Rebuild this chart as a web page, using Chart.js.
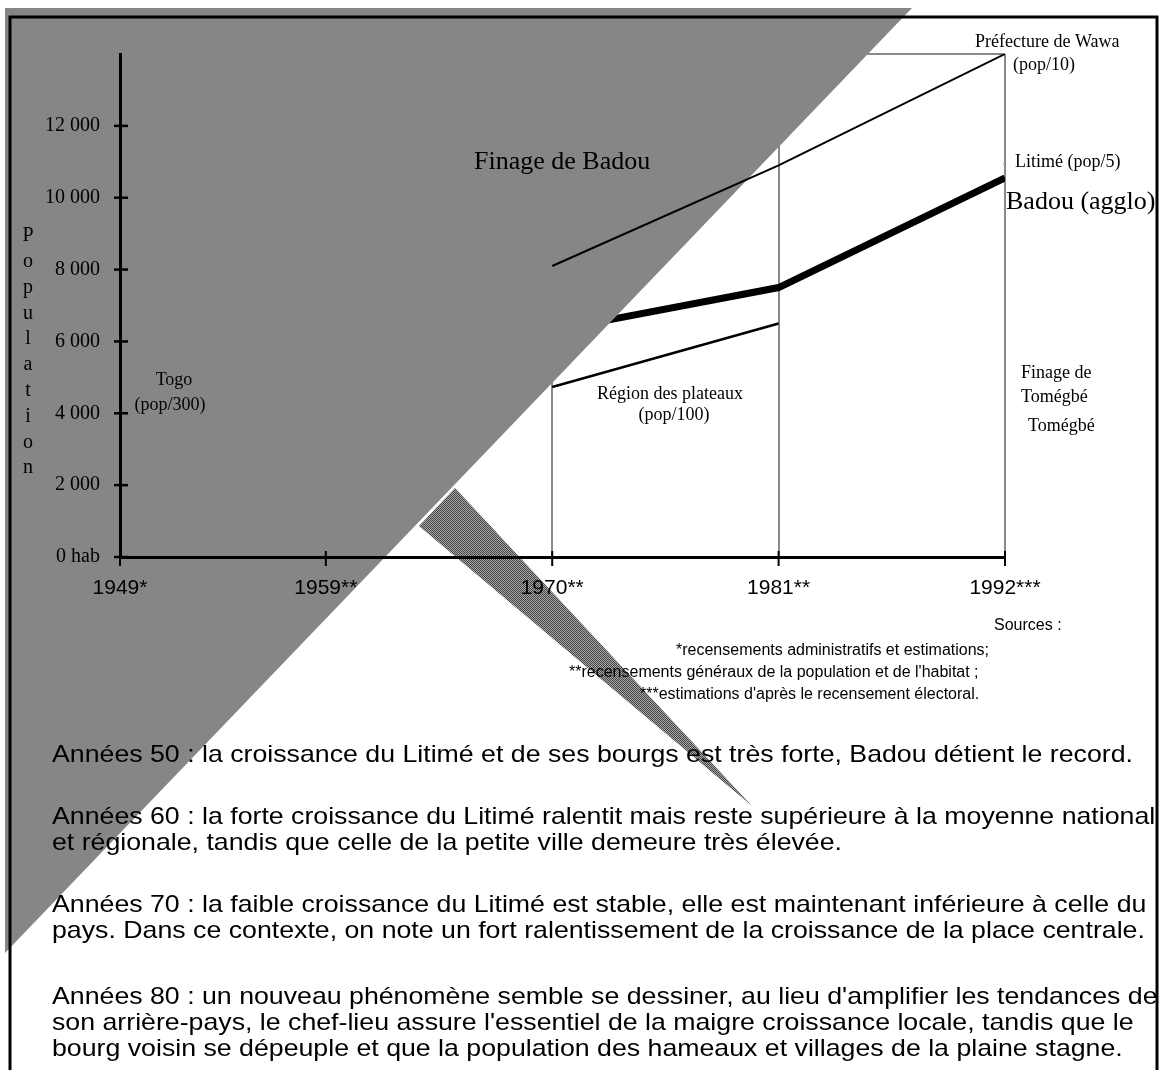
<!DOCTYPE html>
<html lang="fr">
<head>
    <meta charset="UTF-8">
    <title>Croissance de Badou et du Litimé</title>
    <script src="https://cdn.jsdelivr.net/npm/chart.js"></script>
    <style>
        html, body { margin: 0; padding: 0; background: #fff; overflow: hidden; }
        .page { position: relative; width: 1168px; height: 1070px; }
        .chart-box { position: absolute; left: 0; top: 0; width: 1168px; height: 1070px; }
        .notes {
            position: absolute; left: 0; top: 0; width: 1156px; height: 1070px;
            overflow: hidden; pointer-events: none;
        }
        .notes p {
            position: absolute; left: 52px; margin: 0;
            font-family: "Liberation Sans", Arial, sans-serif;
            font-size: 24px; line-height: 26px; color: #000;
            white-space: nowrap; transform: scaleX(1.113); transform-origin: 0 0;
        }
    </style>
</head>
<body>
<div class="page">
    <div class="chart-box"><canvas id="popChart"></canvas></div>
    <div class="notes">
        <p style="top:741px">Années 50 : la croissance du Litimé et de ses bourgs est très forte, Badou détient le record.</p>
        <p style="top:803px">Années 60 : la forte croissance du Litimé ralentit mais reste supérieure à la moyenne nationale<br>et régionale, tandis que celle de la petite ville demeure très élevée.</p>
        <p style="top:891px">Années 70 : la faible croissance du Litimé est stable, elle est maintenant inférieure à celle du<br>pays. Dans ce contexte, on note un fort ralentissement de la croissance de la place centrale.</p>
        <p style="top:983px">Années 80 : un nouveau phénomène semble se dessiner, au lieu d'amplifier les tendances de<br>son arrière-pays, le chef-lieu assure l'essentiel de la maigre croissance locale, tandis que le<br>bourg voisin se dépeuple et que la population des hameaux et villages de la plaine stagne.</p>
    </div>
</div>

<script>
    // census years and their labels (stars = source of the figure)
    const years = [1949, 1959, 1970, 1981, 1992];
    const yearLabels = ['1949*', '1959**', '1970**', '1981**', '1992***'];

    // population values, as read on the figure (null = hidden / not drawn)
    const wawaPop = [null, null, 8100, 10900, 14000];      // Préfecture de Wawa (pop/10)
    const litimePop = [null, null, null, null, 10950];     // Litimé (pop/5)
    const badouPop = [null, null, 6300, 7500, 10550];      // Badou (agglo)
    const plateauxPop = [null, null, 4730, 6500, null];    // Région des plateaux (pop/100)

    const yTicks = [0, 2000, 4000, 6000, 8000, 10000, 12000, 14000];

    const SERIF = '"Liberation Serif", "Times New Roman", serif';
    const SANS = '"Liberation Sans", Arial, sans-serif';

    function points(values) {
        return years.map((yr, i) => ({ x: yr, y: values[i] }));
    }

    function popLabel(v) {
        if (v === 0) return '0 hab';
        if (v >= 14000) return '';
        return Math.floor(v / 1000) + ' 000';
    }

    // 2x2 checker tile for the hatched wedge
    function checker(ctx, a, b) {
        const c = document.createElement('canvas');
        c.width = 2; c.height = 2;
        const g = c.getContext('2d');
        g.fillStyle = a; g.fillRect(0, 0, 2, 2);
        g.fillStyle = b; g.fillRect(0, 0, 1, 1); g.fillRect(1, 1, 1, 1);
        return ctx.createPattern(c, 'repeat');
    }

    function polygon(ctx, pts) {
        ctx.beginPath();
        ctx.moveTo(pts[0][0], pts[0][1]);
        pts.slice(1).forEach(p => ctx.lineTo(p[0], p[1]));
        ctx.closePath();
        ctx.fill();
    }

    function text(ctx, str, x, y, size, family, align) {
        ctx.font = size + 'px ' + family;
        ctx.textAlign = align || 'left';
        ctx.textBaseline = 'middle';
        ctx.fillText(str, x, y);
    }

    const scanPlugin = {
        id: 'scan',
        // the grey triangle and its hatched wedge hide the lower series but not the Wawa line
        beforeDatasetDraw(chart, args) {
            if (args.index !== 0) return;
            const ctx = chart.ctx;
            ctx.save();
            ctx.fillStyle = '#868686';
            polygon(ctx, [[5, 8], [912, 8], [5, 953]]);
            ctx.fillStyle = checker(ctx, '#a8a8a8', '#444444');
            polygon(ctx, [[455, 488], [419, 526], [752, 806]]);
            ctx.restore();
        },
        afterDraw(chart) {
            const ctx = chart.ctx;
            const xs = chart.scales.x;
            const ys = chart.scales.y;
            ctx.save();
            ctx.strokeStyle = '#000';
            ctx.fillStyle = '#000';

            // cross-shaped tick marks
            ctx.lineWidth = 2.5;
            yTicks.filter(v => v < 14000).forEach(v => {
                const py = ys.getPixelForValue(v);
                ctx.beginPath();
                ctx.moveTo(xs.left - 6, py);
                ctx.lineTo(xs.left + 8, py);
                ctx.stroke();
            });
            ctx.lineWidth = 2;
            years.forEach(yr => {
                const px = xs.getPixelForValue(yr);
                ctx.beginPath();
                ctx.moveTo(px, ys.bottom - 6);
                ctx.lineTo(px, ys.bottom + 9);
                ctx.stroke();
            });

            // frame
            ctx.lineWidth = 3;
            ctx.strokeRect(10, 17, 1147, 1070);

            // vertical axis title, one letter per line
            'Population'.split('').forEach((ch, i) => {
                text(ctx, ch, 28, 236 + i * 25.8, 20, SERIF, 'center');
            });

            // series annotations
            text(ctx, 'Finage de Badou', 474, 162, 26, SERIF);
            text(ctx, 'Togo', 174, 380, 18, SERIF, 'center');
            text(ctx, '(pop/300)', 170, 405, 18, SERIF, 'center');
            text(ctx, 'Préfecture de Wawa', 975, 42, 18, SERIF);
            text(ctx, '(pop/10)', 1013, 65, 18, SERIF);
            text(ctx, 'Litimé (pop/5)', 1015, 162, 18, SERIF);
            text(ctx, 'Badou (agglo)', 1006, 202, 26, SERIF);
            text(ctx, 'Région des plateaux', 670, 394, 18, SERIF, 'center');
            text(ctx, '(pop/100)', 674, 415, 18, SERIF, 'center');
            text(ctx, 'Finage de', 1021, 373, 18, SERIF);
            text(ctx, 'Tomégbé', 1021, 397, 18, SERIF);
            text(ctx, 'Tomégbé', 1028, 426, 18, SERIF);

            // sources
            text(ctx, 'Sources :', 994, 626, 16, SANS);
            text(ctx, '*recensements administratifs et estimations;', 676, 651, 16, SANS);
            text(ctx, "**recensements généraux de la population et de l'habitat ;", 569, 673, 16, SANS);
            text(ctx, "***estimations d'après le recensement électoral.", 640, 695, 16, SANS);
            ctx.restore();
        }
    };

    new Chart(document.getElementById('popChart'), {
        type: 'line',
        data: {
            datasets: [
                {
                    label: 'Préfecture de Wawa (pop/10)',
                    data: points(wawaPop),
                    borderColor: '#000',
                    borderWidth: 2,
                    pointRadius: 0
                },
                {
                    label: 'Litimé (pop/5)',
                    data: points(litimePop),
                    showLine: false,
                    pointStyle: 'rect',
                    pointRadius: 2,
                    backgroundColor: '#9a9a9a',
                    borderWidth: 0
                },
                {
                    label: 'Badou (agglo)',
                    data: points(badouPop),
                    borderColor: '#000',
                    borderWidth: 7,
                    pointRadius: 0
                },
                {
                    label: 'Région des plateaux (pop/100)',
                    data: points(plateauxPop),
                    borderColor: '#000',
                    borderWidth: 2.5,
                    pointRadius: 0
                }
            ]
        },
        options: {
            responsive: true,
            maintainAspectRatio: false,
            animation: false,
            layout: { padding: { left: 0, top: 54, right: 163, bottom: 463 } },
            plugins: {
                legend: { display: false },
                tooltip: { enabled: false }
            },
            scales: {
                x: {
                    type: 'linear',
                    min: 1949,
                    max: 1992,
                    afterBuildTicks: (scale) => { scale.ticks = years.map(v => ({ value: v })); },
                    afterFit: (scale) => { scale.height = 50; },
                    grid: { color: '#8a8a8a', lineWidth: 2, drawTicks: false },
                    border: { display: true, color: '#000', width: 3, z: 1 },
                    ticks: {
                        z: 1,
                        padding: 19,
                        color: '#000',
                        maxRotation: 0,
                        font: { family: SANS, size: 21 },
                        callback: (v) => yearLabels[years.indexOf(v)]
                    }
                },
                y: {
                    min: 0,
                    max: 14000,
                    afterBuildTicks: (scale) => { scale.ticks = yTicks.map(v => ({ value: v })); },
                    afterFit: (scale) => { scale.width = 120; },
                    grid: {
                        color: (c) => c.tick && c.tick.value === 14000 ? '#8a8a8a' : 'rgba(0,0,0,0)',
                        lineWidth: 2,
                        drawTicks: false
                    },
                    border: { display: true, color: '#000', width: 3, z: 1 },
                    ticks: {
                        z: 1,
                        padding: 20,
                        color: '#000',
                        font: { family: SERIF, size: 20 },
                        callback: (v) => popLabel(v)
                    }
                }
            }
        },
        plugins: [scanPlugin]
    });
</script>
</body>
</html>
